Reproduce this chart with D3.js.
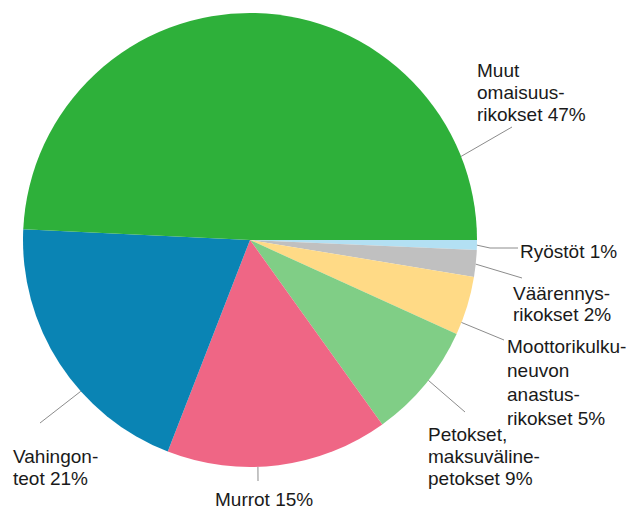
<!DOCTYPE html>
<html>
<head>
<meta charset="utf-8">
<script src="https://cdn.jsdelivr.net/npm/d3@7"></script>
<style>
  html, body { margin: 0; padding: 0; background: #fff; }
  svg { display: block; }
</style>
</head>
<body>
<div id="chart"></div>
<script>
// slices clockwise from 3 o'clock
const categories = ["Ryöstöt", "Väärennysrikokset", "Moottorikulkuneuvon anastusrikokset",
  "Petokset, maksuvälinepetokset", "Murrot", "Vahingonteot", "Muut omaisuusrikokset"];
const shares = [0.7, 1.9, 4.2, 8.3, 15.8, 19.85, 49.25];
const labelLines = [
  ["Ryöstöt 1%"],
  ["Väärennys-", "rikokset 2%"],
  ["Moottorikulku-", "neuvon", "anastus-", "rikokset 5%"],
  ["Petokset,", "maksuväline-", "petokset 9%"],
  ["Murrot 15%"],
  ["Vahingon-", "teot 21%"],
  ["Muut", "omaisuus-", "rikokset 47%"]
];
const colors = ["#b3e0f3", "#c0c0c0", "#ffda86", "#80ce86", "#ef6685", "#0a84b4", "#2eb03a"];

const width = 628, height = 510;
const cx = 250, cy = 240, r = 227;

// label layout: leader start angle (deg, clockwise from 3 o'clock), leader bend/end, text pos
const layout = [
  { a: 1.3, pts: [[490, 248], [518, 248]], tx: 520, ty: 258, lh: 22 },
  { a: 6.1, pts: [[522, 278]], tx: 513, ty: 300, lh: 21 },
  { a: 21.3, pts: [[504, 340]], tx: 507, ty: 353, lh: 24 },
  { a: 38.2, pts: [[465, 412]], tx: 428, ty: 441, lh: 22 },
  { a: 88, pts: [[258, 481]], tx: 215, ty: 506, lh: 22 },
  { a: 138.2, pts: [[40, 423]], tx: 13, ty: 463, lh: 22 },
  { a: 338.4, pts: [[512, 127]], tx: 477, ty: 77, lh: 22 }
];

const svg = d3.select("#chart")
  .append("svg")
  .attr("width", width)
  .attr("height", height);

const pie = d3.pie()
  .sort(null)
  .value(d => d)
  .startAngle(Math.PI / 2)
  .endAngle(Math.PI / 2 + 2 * Math.PI);

const arc = d3.arc().innerRadius(0).outerRadius(r);

const g = svg.append("g").attr("transform", `translate(${cx},${cy})`);

g.selectAll("path")
  .data(pie(shares))
  .join("path")
  .attr("d", arc)
  .attr("fill", (d, i) => colors[i]);

const line = d3.line();
layout.forEach((l, i) => {
  const rad = l.a * Math.PI / 180;
  const start = [cx + Math.cos(rad) * r, cy + Math.sin(rad) * r];
  svg.append("path")
    .attr("d", line([start, ...l.pts]))
    .attr("fill", "none")
    .attr("stroke", "#8c8c8c")
    .attr("stroke-width", 1);

  const t = svg.append("text")
    .attr("x", l.tx)
    .attr("y", l.ty)
    .attr("font-family", "'Liberation Sans', Arial, sans-serif")
    .attr("font-size", 19)
    .attr("fill", "#1a1a1a");
  labelLines[i].forEach((s, j) => {
    t.append("tspan")
      .attr("x", l.tx)
      .attr("dy", j === 0 ? 0 : l.lh)
      .text(s);
  });
});
</script>
</body>
</html>
